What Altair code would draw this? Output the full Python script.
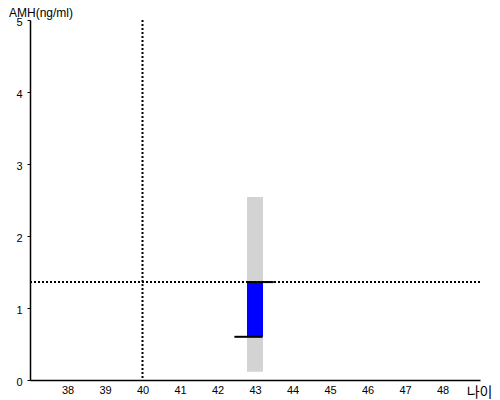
import altair as alt
import pandas as pd

# data
age = [43]
range_low = [0.115]
range_high = [2.54]
value_low = [0.6]
value_high = [1.36]
ref_age = [40]
ref_amh = [1.36]
seg_y = [0.6, 1.36]
seg_x1 = [42.45, 42.78]
seg_x2 = [43.2, 43.5]
x_ticks = list(range(38, 49))
y_ticks = [0, 1, 2, 3, 4, 5]

FONT = "Liberation Sans"

x_scale = alt.Scale(domain=[37, 49], nice=False, zero=False)
y_scale = alt.Scale(domain=[0, 5], nice=False, zero=False)

x_axis = alt.Axis(values=x_ticks, ticks=False, grid=False, domainColor="black",
                  domainWidth=1.5, labelFont=FONT, labelFontSize=11, labelColor="black",
                  labelPadding=4, title="나이", titleFont="Noto Sans CJK KR",
                  titleFontSize=14, titleFontWeight="normal", titleColor="black",
                  titleX=462, titleY=16, titleAlign="right", titleBaseline="alphabetic")
y_axis = alt.Axis(values=y_ticks, tickSize=3, grid=False, domainColor="black",
                  domainWidth=1.5, tickColor="black", labelFont=FONT, labelFontSize=11,
                  labelColor="black", labelPadding=5, labelOffset=2,
                  title="AMH(ng/ml)", titleFont=FONT, titleFontSize=12,
                  titleFontWeight="normal", titleColor="black", titleAngle=0,
                  titleX=-21.5, titleY=-3.5, titleAlign="left", titleBaseline="alphabetic")


def X(field, **kw):
    return alt.X(field, type="quantitative", scale=x_scale, axis=x_axis, **kw)


def Y(field, **kw):
    return alt.Y(field, type="quantitative", scale=y_scale, axis=y_axis, **kw)


bars = pd.DataFrame({"age": age, "rlo": range_low, "rhi": range_high,
                     "vlo": value_low, "vhi": value_high})
segs = pd.DataFrame({"y": seg_y, "x1": seg_x1, "x2": seg_x2})
vref = pd.DataFrame({"age": ref_age})
href = pd.DataFrame({"amh": ref_amh})

gray = alt.Chart(bars).mark_rule(color="#d3d3d3", strokeWidth=16).encode(
    x=X("age"), y=Y("rlo"), y2="rhi")
blue = alt.Chart(bars).mark_rule(color="#0000ff", strokeWidth=16).encode(
    x=X("age"), y=Y("vlo"), y2="vhi")
vline = alt.Chart(vref).mark_rule(color="black", strokeWidth=2, strokeDash=[2, 2]).encode(
    x=X("age"))
hline = alt.Chart(href).mark_rule(color="black", strokeWidth=2, strokeDash=[2, 2]).encode(
    y=Y("amh"))
lines = alt.Chart(segs).mark_rule(color="black", strokeWidth=2).encode(
    x=X("x1"), x2="x2", y=Y("y"))

chart = alt.layer(gray, blue, vline, hline, lines).properties(
    width=450, height=360,
    autosize=alt.AutoSizeParams(type="none"),
    padding={"left": 22, "top": 12, "right": 12, "bottom": 20},
).configure(background="white", view=alt.ViewConfig(stroke=None))

chart.save("out.html", embed_options={"renderer": "svg", "actions": False})
